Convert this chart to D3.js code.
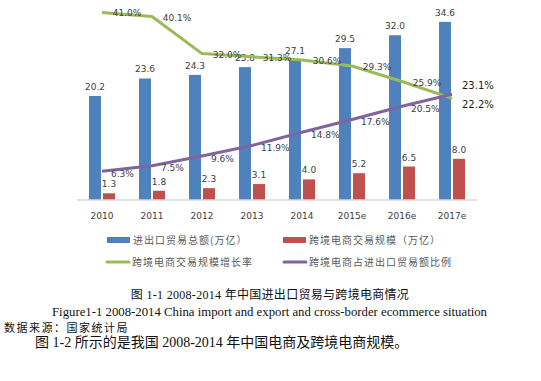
<!DOCTYPE html>
<html>
<head>
<meta charset="utf-8">
<script src="https://cdn.jsdelivr.net/npm/d3@7"></script>
<style>
  body { margin: 0; background: #fff; }
  svg { display: block; }
</style>
</head>
<body>
<div id="chart"></div>
<script>
// 数据
const years = ['2010', '2011', '2012', '2013', '2014', '2015e', '2016e', '2017e'];
const tradeTotal = [20.2, 23.6, 24.3, 25.8, 27.1, 29.5, 32.0, 34.6];
const crossBorder = [1.3, 1.8, 2.3, 3.1, 4.0, 5.2, 6.5, 8.0];
const growthRate = [41.0, 40.1, 32.0, 31.3, 30.6, 29.3, 25.9, 22.2];
const shareRate = [6.3, 7.5, 9.6, 11.9, 14.8, 17.6, 20.5, 23.1];
const legendLabels = ['进出口贸易总额(万亿）', '跨境电商交易规模（万亿）', '跨境电商交易规模增长率', '跨境电商占进出口贸易额比例'];

const W = 541, H = 381;
const colors = { blue: '#4f81bd', red: '#c0504d', green: '#9bbb59', purple: '#8064a2' };
const numFont = '"DejaVu Sans", sans-serif';

const svg = d3.select('#chart').append('svg')
  .attr('width', W).attr('height', H);

// 比例尺
const x = d3.scaleBand().domain(years).range([77, 477]);
const yVal = d3.scaleLinear().domain([0, 35]).range([200, 19.8]);
const yPct = d3.scaleLinear().domain([0, 40]).range([200, 17]);
const cx = d => x(d) + x.bandwidth() / 2;

// 柱子
const bars = svg.append('g');
bars.selectAll('rect.total')
  .data(tradeTotal)
  .join('rect')
  .attr('x', (d, i) => cx(years[i]) - 13)
  .attr('y', d => yVal(d))
  .attr('width', 12)
  .attr('height', d => yVal(0) - yVal(d))
  .attr('fill', colors.blue);

bars.selectAll('rect.cb')
  .data(crossBorder)
  .join('rect')
  .attr('x', (d, i) => cx(years[i]) + 1)
  .attr('y', d => yVal(d))
  .attr('width', 12)
  .attr('height', d => yVal(0) - yVal(d))
  .attr('fill', colors.red);

// 横轴
svg.append('line')
  .attr('x1', 77).attr('x2', 477)
  .attr('y1', yVal(0)).attr('y2', yVal(0))
  .attr('stroke', '#d9d9d9').attr('stroke-width', 1.5);

const xAxis = svg.append('g')
  .attr('transform', `translate(0,${yVal(0)})`)
  .call(d3.axisBottom(x).tickSize(0).tickPadding(13));
xAxis.select('.domain').remove();
xAxis.selectAll('text')
  .attr('font-family', numFont).attr('font-size', 9).attr('fill', '#404040');

// 柱子标签
const labels = svg.append('g')
  .attr('font-family', numFont).attr('font-size', 9).attr('fill', '#404040')
  .attr('text-anchor', 'middle');
labels.selectAll('text.total')
  .data(tradeTotal)
  .join('text')
  .attr('x', (d, i) => cx(years[i]) - 7)
  .attr('y', d => yVal(d) - 6)
  .text(d => d.toFixed(1));
labels.selectAll('text.cb')
  .data(crossBorder)
  .join('text')
  .attr('x', (d, i) => cx(years[i]) + 7)
  .attr('y', d => yVal(d) - 6)
  .text(d => d.toFixed(1));

// 折线
const line = d3.line()
  .x((d, i) => cx(years[i]))
  .y(d => yPct(d));

svg.append('path')
  .datum(growthRate)
  .attr('d', line)
  .attr('fill', 'none')
  .attr('stroke', colors.green)
  .attr('stroke-width', 3)
  .attr('stroke-linejoin', 'round');

svg.append('path')
  .datum(shareRate)
  .attr('d', line)
  .attr('fill', 'none')
  .attr('stroke', colors.purple)
  .attr('stroke-width', 3)
  .attr('stroke-linejoin', 'round');

// 折线标签
const pctLabels = svg.append('g')
  .attr('font-family', numFont).attr('font-size', 9).attr('fill', '#404040');
pctLabels.selectAll('text.g')
  .data(growthRate.slice(0, -1))
  .join('text')
  .attr('text-anchor', 'middle')
  .attr('x', (d, i) => cx(years[i]) + 25)
  .attr('y', d => yPct(d) + 4)
  .text(d => d.toFixed(1) + '%');
pctLabels.selectAll('text.p')
  .data(shareRate.slice(0, -1))
  .join('text')
  .attr('x', (d, i) => cx(years[i]) + 9)
  .attr('y', d => yPct(d) + 5.5)
  .text(d => d.toFixed(1) + '%');

// 末端标签
const last = years.length - 1;
const endLabels = svg.append('g')
  .attr('font-family', numFont).attr('font-size', 10).attr('fill', '#1a1a1a');
endLabels.append('text')
  .attr('x', 462).attr('y', yPct(shareRate[last]) - 5)
  .text(shareRate[last].toFixed(1) + '%');
endLabels.append('text')
  .attr('x', 462).attr('y', yPct(growthRate[last]) + 10)
  .text(growthRate[last].toFixed(1) + '%');

// 图例
const legendItems = [
  { label: legendLabels[0], color: colors.blue, type: 'rect', x: 107, y: 240 },
  { label: legendLabels[1], color: colors.red, type: 'rect', x: 283, y: 240 },
  { label: legendLabels[2], color: colors.green, type: 'line', x: 106, y: 262 },
  { label: legendLabels[3], color: colors.purple, type: 'line', x: 283, y: 262 }
];
const legend = svg.append('g');
legendItems.forEach(it => {
  if (it.type === 'rect') {
    legend.append('rect')
      .attr('x', it.x).attr('y', it.y - 3)
      .attr('width', 23).attr('height', 6)
      .attr('fill', it.color);
  } else {
    legend.append('line')
      .attr('x1', it.x + 1).attr('x2', it.x + 23)
      .attr('y1', it.y).attr('y2', it.y)
      .attr('stroke', it.color).attr('stroke-width', 3)
      .attr('stroke-linecap', 'round');
  }
  legend.append('text')
    .attr('x', it.x + 26).attr('y', it.y + 4)
    .attr('font-family', '"Noto Sans CJK SC", sans-serif')
    .attr('font-size', 10).attr('fill', '#595959')
    .attr('letter-spacing', 1)
    .text(it.label);
});

// 图题与正文
const serif = '"Liberation Serif", "Noto Sans CJK SC", serif';
svg.append('text')
  .attr('x', 270).attr('y', 299)
  .attr('text-anchor', 'middle')
  .attr('font-family', serif).attr('font-size', 12).attr('fill', '#111')
  .attr('letter-spacing', 0.3)
  .text('图 1-1 2008-2014 年中国进出口贸易与跨境电商情况');
svg.append('text')
  .attr('x', 52).attr('y', 316)
  .attr('font-family', serif).attr('font-size', 12).attr('fill', '#111')
  .attr('textLength', 435).attr('lengthAdjust', 'spacingAndGlyphs')
  .text('Figure1-1 2008-2014 China import and export and cross-border ecommerce situation');
svg.append('text')
  .attr('x', 4).attr('y', 332)
  .attr('font-family', serif).attr('font-size', 11).attr('fill', '#111')
  .attr('letter-spacing', 1.5)
  .text('数据来源：国家统计局');
svg.append('text')
  .attr('x', 35).attr('y', 347)
  .attr('font-family', serif).attr('font-size', 14).attr('fill', '#111')
  .text('图 1-2 所示的是我国 2008-2014 年中国电商及跨境电商规模。');
</script>
</body>
</html>
